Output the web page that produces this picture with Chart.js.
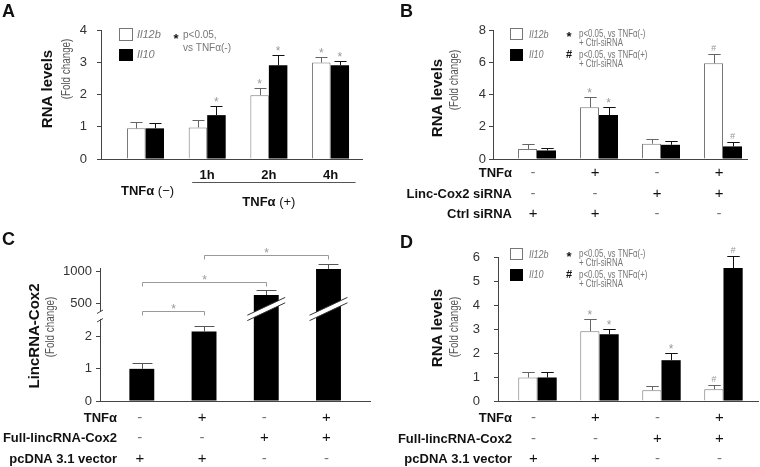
<!DOCTYPE html>
<html>
<head>
<meta charset="utf-8">
<script src="https://cdn.jsdelivr.net/npm/chart.js@4.4.1/dist/chart.umd.min.js"></script>
<style>
  html, body { margin: 0; background: #fff; }
  #fig { position: relative; width: 760px; height: 467px; overflow: hidden; }
  #fig canvas { position: absolute; left: 0; top: 0; }
</style>
</head>
<body>
<div id="fig">
  <canvas id="chartA" width="760" height="467"></canvas>
  <canvas id="chartB" width="760" height="467"></canvas>
  <canvas id="chartC" width="760" height="467"></canvas>
  <canvas id="chartD" width="760" height="467"></canvas>
</div>
<script>
// ---- panel A: TNFa time course
const groupsA = ['TNFα (−)', '1h', '2h', '4h']
const il12bA = [0.95, 0.98, 1.98, 2.99]
const il12bErrA = [0.19, 0.23, 0.21, 0.16]
const il10A = [0.95, 1.36, 2.91, 2.91]
const il10ErrA = [0.16, 0.29, 0.31, 0.14]
const il12bMarksA = ['', '', '*', '*']
const il10MarksA = ['', '*', '*', '*']
const ticksA = [0, 1, 2, 3, 4]

// ---- panel B: lincRNA-Cox2 siRNA
const il12bB = [0.62, 3.21, 0.95, 5.94]
const il12bErrB = [0.31, 0.66, 0.29, 0.58]
const il10B = [0.53, 2.73, 0.88, 0.78]
const il10ErrB = [0.15, 0.47, 0.23, 0.25]
const il12bMarksB = ['', '*', '', '#']
const il10MarksB = ['', '*', '', '#']
const ticksB = [0, 2, 4, 6, 8]
const rowsB = ['TNFα', 'Linc-Cox2 siRNA', 'Ctrl siRNA']
const signsB = [['-', '+', '-', '+'], ['-', '-', '+', '+'], ['+', '+', '-', '-']]

// ---- panel C: lincRNA-Cox2 overexpression (broken axis)
const lincC = [1.0, 2.16, 631, 1043]
const lincErrC = [0.17, 0.17, 79, 79]
const ticksCLow = [0, 1, 2]
const ticksCHigh = [500, 1000]
const bracketsC = [[0, 1], [0, 2], [1, 3]]
const bracketLevelsC = [378, 842, 1264]
const rowsCD = ['TNFα', 'Full-lincRNA-Cox2', 'pcDNA 3.1 vector']
const signsCD = [['-', '+', '-', '+'], ['-', '-', '+', '+'], ['+', '+', '-', '-']]

// ---- panel D
const il12bD = [0.98, 2.91, 0.45, 0.49]
const il12bErrD = [0.21, 0.49, 0.16, 0.17]
const il10D = [0.98, 2.78, 1.70, 5.54]
const il10ErrD = [0.21, 0.23, 0.28, 0.51]
const il12bMarksD = ['', '*', '', '#']
const il10MarksD = ['', '*', '*', '#']
const ticksD = [0, 1, 2, 3, 4, 5, 6]

const FONT = "'Liberation Sans', Arial, Helvetica, sans-serif"
const AXIS = '#444'
const GREY = '#777'

function pts(arr) {
  return arr.map((v, i) => ({ x: i, y: v }))
}

function label(ctx, s, x, y, o = {}) {
  ctx.save()
  ctx.translate(x, y)
  if (o.rot) ctx.rotate(o.rot)
  if (o.sx) ctx.scale(o.sx, 1)
  ctx.font = `${o.style || 'normal'} ${o.weight || 'normal'} ${o.size || 12}px ${FONT}`
  ctx.fillStyle = o.color || '#111'
  ctx.textAlign = o.align || 'left'
  ctx.textBaseline = o.base || 'middle'
  ctx.fillText(s, 0, 0)
  ctx.restore()
}

// bold part + normal part, centred on cx
function label2(ctx, a, b, cx, y, size) {
  ctx.save()
  ctx.font = `bold ${size}px ${FONT}`
  const wa = ctx.measureText(a).width
  ctx.font = `normal ${size}px ${FONT}`
  const wb = ctx.measureText(b).width
  ctx.restore()
  const x0 = cx - (wa + wb) / 2
  label(ctx, a, x0, y, { weight: 'bold', size })
  label(ctx, b, x0 + wa, y, { size })
}

function xAxis(min, max, n) {
  return {
    type: 'linear', min, max, offset: false,
    afterBuildTicks: s => { s.ticks = Array.from({ length: n }, (_, i) => ({ value: i })) },
    afterFit: s => { s.height = 0 },
    ticks: { display: false },
    grid: { display: false },
    border: { color: AXIS, width: 1 }
  }
}

function yAxis(min, max, ticks, pad) {
  return {
    min, max,
    afterBuildTicks: s => { s.ticks = ticks.map(v => ({ value: v })) },
    afterFit: s => { s.width = 40 },
    grid: { drawOnChartArea: false, tickLength: 4, color: AXIS },
    border: { color: AXIS, width: 1 },
    ticks: { color: '#333', padding: pad, font: { family: FONT, size: 13 }, callback: v => String(v) }
  }
}

function whiteSet(name, vals, errs, marks) {
  return { label: name, data: pts(vals), errors: errs, marks, backgroundColor: '#fff',
    borderColor: GREY, borderWidth: 1, errorColor: '#666', capRatio: 0.65 }
}
function blackSet(name, vals, errs, marks) {
  return { label: name, data: pts(vals), errors: errs, marks, backgroundColor: '#000',
    borderWidth: 0, errorColor: '#111', capRatio: 0.65 }
}

// error bars + significance marks above them
const errorBars = {
  id: 'errorBars',
  afterDatasetsDraw(chart) {
    const ctx = chart.ctx
    chart.data.datasets.forEach((ds, di) => {
      if (!ds.errors) return
      const meta = chart.getDatasetMeta(di)
      const ys = chart.scales[meta.yAxisID]
      meta.data.forEach((bar, i) => {
        const v = ds.data[i].y
        if (v < ys.min || v > ys.max) return
        const x = Math.round(bar.x) + 0.5
        const top = Math.round(ys.getPixelForValue(v + ds.errors[i])) + 0.5
        const half = bar.width * ds.capRatio / 2
        ctx.save()
        ctx.strokeStyle = ds.errorColor
        ctx.lineWidth = 1
        ctx.beginPath()
        ctx.moveTo(x, bar.y)
        ctx.lineTo(x, top)
        ctx.moveTo(x - half, top)
        ctx.lineTo(x + half, top)
        ctx.stroke()
        ctx.restore()
        const m = ds.marks && ds.marks[i]
        if (m === '*') label(ctx, m, bar.x, top - 1, { size: 12, color: '#999', align: 'center', base: 'alphabetic' })
        if (m === '#') label(ctx, m, bar.x, top - 4, { size: 9, color: '#999', align: 'center', base: 'alphabetic', style: 'italic' })
      })
    })
  }
}

function signTable(ctx, chart, rows, signs, right, ys, shift) {
  const x = chart.scales.x
  rows.forEach((r, k) => {
    label(ctx, r, right, ys[k], { weight: 'bold', size: 13, align: 'right', color: '#111' })
    signs[k].forEach((s, i) => {
      const px = x.getPixelForValue(i) + shift
      if (s === '+') label(ctx, '+', px, ys[k], { size: 15, align: 'center', color: '#111' })
      else label(ctx, '-', px, ys[k], { size: 15, align: 'center', color: '#777' })
    })
  })
}

function yTitle(ctx, main, sub, x1, y1, x2, y2) {
  label(ctx, main, x1, y1, { rot: -Math.PI / 2, weight: 'bold', size: 15, align: 'center' })
  label(ctx, sub, x2, y2, { rot: -Math.PI / 2, size: 12, sx: 0.82, align: 'center', color: '#555' })
}

function legendBD(ctx, chart, dy) {
  const ds = chart.data.datasets
  ctx.save()
  ctx.fillStyle = '#fff'
  ctx.strokeStyle = GREY
  ctx.lineWidth = 1
  ctx.fillRect(510.5, 28.5 + dy, 12, 11)
  ctx.strokeRect(510.5, 28.5 + dy, 12, 11)
  ctx.fillStyle = '#000'
  ctx.fillRect(510, 49 + dy, 13, 12)
  ctx.restore()
  label(ctx, ds[0].label, 529, 35 + dy, { style: 'italic', size: 11, sx: 0.82, color: GREY })
  label(ctx, ds[1].label, 529, 55 + dy, { style: 'italic', size: 11, sx: 0.82, color: GREY })
  label(ctx, '*', 569, 41 + dy, { weight: 'bold', size: 13, align: 'center', base: 'alphabetic' })
  label(ctx, '#', 569, 55 + dy, { weight: 'bold', size: 11, align: 'center' })
  label(ctx, 'p<0.05, vs TNFα(-)', 579, 34 + dy, { size: 10.5, sx: 0.75, color: GREY })
  label(ctx, '+ Ctrl-siRNA', 579, 43 + dy, { size: 10.5, sx: 0.75, color: GREY })
  label(ctx, 'p<0.05, vs TNFα(+)', 579, 55 + dy, { size: 10.5, sx: 0.75, color: GREY })
  label(ctx, '+ Ctrl-siRNA', 579, 64 + dy, { size: 10.5, sx: 0.75, color: GREY })
}

function panel(id, area, scales, datasets, plugins, catPct) {
  return new Chart(document.getElementById(id), {
    type: 'bar',
    data: { datasets },
    options: {
      responsive: false,
      animation: false,
      devicePixelRatio: 1,
      layout: { padding: { left: area[0] - 40, top: area[1], right: 760 - area[2], bottom: 467 - area[3] } },
      datasets: { bar: { categoryPercentage: catPct, barPercentage: 1 } },
      plugins: { legend: { display: false }, tooltip: { enabled: false } },
      scales
    },
    plugins: [errorBars, ...plugins]
  })
}

// ---------- A
panel('chartA', [101, 30, 362, 159],
  { x: xAxis(-0.722, 3.51, groupsA.length), y: yAxis(0, 4, ticksA, 10) },
  [whiteSet('Il12b', il12bA, il12bErrA, il12bMarksA), blackSet('Il10', il10A, il10ErrA, il10MarksA)],
  [{
    id: 'decoA',
    afterDraw(chart) {
      const ctx = chart.ctx, x = chart.scales.x, ds = chart.data.datasets
      label(ctx, 'A', 2, 17, { weight: 'bold', size: 18, base: 'alphabetic' })
      yTitle(ctx, 'RNA levels', '(Fold change)', 48, 89, 67, 69)
      ctx.save()
      ctx.fillStyle = '#fff'
      ctx.strokeStyle = GREY
      ctx.fillRect(119.5, 28.5, 13, 12)
      ctx.strokeRect(119.5, 28.5, 13, 12)
      ctx.fillStyle = '#000'
      ctx.fillRect(119, 49, 14, 12)
      ctx.restore()
      label(ctx, ds[0].label, 137, 35, { style: 'italic', size: 11, color: GREY })
      label(ctx, ds[1].label, 137, 55, { style: 'italic', size: 11, color: GREY })
      label(ctx, '*', 176, 43, { weight: 'bold', size: 13, align: 'center', base: 'alphabetic' })
      label(ctx, 'p<0.05,', 183, 35, { size: 10, color: GREY })
      label(ctx, 'vs TNFα(-)', 183, 48, { size: 10, color: GREY })
      for (let i = 1; i < groupsA.length; i++) {
        label(ctx, groupsA[i], x.getPixelForValue(i), 175, { weight: 'bold', size: 13, align: 'center' })
      }
      label2(ctx, 'TNFα', ' (−)', x.getPixelForValue(0) + 2, 191, 13)
      ctx.save()
      ctx.strokeStyle = '#555'
      ctx.beginPath()
      ctx.moveTo(x.getPixelForValue(1) - 15, 182.5)
      ctx.lineTo(x.getPixelForValue(3) + 25, 182.5)
      ctx.stroke()
      ctx.restore()
      label2(ctx, 'TNFα', ' (+)', x.getPixelForValue(2), 202, 13)
    }
  }], 0.6)

// ---------- B
panel('chartB', [493, 30, 747, 159],
  { x: xAxis(-0.71, 3.387, 4), y: yAxis(0, 8, ticksB, 3) },
  [whiteSet('Il12b', il12bB, il12bErrB, il12bMarksB), blackSet('Il10', il10B, il10ErrB, il10MarksB)],
  [{
    id: 'decoB',
    afterDraw(chart) {
      const ctx = chart.ctx
      label(ctx, 'B', 400, 17, { weight: 'bold', size: 18, base: 'alphabetic' })
      yTitle(ctx, 'RNA levels', '(Fold change)', 437.5, 98, 455, 80)
      legendBD(ctx, chart, 0)
      signTable(ctx, chart, rowsB, signsB, 512, [173, 194, 214], -4)
    }
  }], 0.613)

// ---------- C (two stacked y scales make the axis break)
const clipToScale = {
  id: 'clipToScale',
  beforeDatasetDraw(chart, args) {
    const ys = chart.scales[args.meta.yAxisID]
    const a = chart.chartArea
    chart.ctx.save()
    chart.ctx.beginPath()
    chart.ctx.rect(a.left, ys.top, a.right - a.left, ys.bottom - ys.top)
    chart.ctx.clip()
  },
  afterDatasetDraw(chart) {
    chart.ctx.restore()
  }
}

panel('chartC', [100, 268, 370, 401],
  {
    x: xAxis(-0.672, 3.667, lincC.length),
    y: Object.assign(yAxis(0, 2.52, ticksCLow, 4), { stack: 'c', stackWeight: 81 }),
    y2: Object.assign(yAxis(236, 1058, ticksCHigh, 4), { stack: 'c', stackWeight: 52, position: 'left' })
  },
  [
    { label: 'low', data: pts(lincC), yAxisID: 'y', grouped: false, backgroundColor: '#000', borderWidth: 0,
      errors: lincErrC, errorColor: '#555', capRatio: 0.8 },
    { label: 'high', data: pts(lincC), yAxisID: 'y2', grouped: false, backgroundColor: '#000', borderWidth: 0,
      errors: lincErrC, errorColor: '#555', capRatio: 0.8 }
  ],
  [clipToScale, {
    id: 'decoC',
    afterDatasetsDraw(chart) {
      const ctx = chart.ctx, hi = chart.scales.y2
      chart.getDatasetMeta(1).data.forEach((bar, i) => {
        if (lincC[i] < hi.min) return
        const cy = hi.bottom - 11, hw = bar.width / 2 + 6.5, k = 0.47, g = 2.7
        ctx.save()
        ctx.beginPath()
        ctx.moveTo(bar.x - hw, cy + hw * k - g)
        ctx.lineTo(bar.x + hw, cy - hw * k - g)
        ctx.lineTo(bar.x + hw, cy - hw * k + g)
        ctx.lineTo(bar.x - hw, cy + hw * k + g)
        ctx.closePath()
        ctx.fillStyle = '#fff'
        ctx.fill()
        ctx.strokeStyle = '#333'
        ctx.lineWidth = 1
        ctx.beginPath()
        ctx.moveTo(bar.x - hw, cy + hw * k - g)
        ctx.lineTo(bar.x + hw, cy - hw * k - g)
        ctx.moveTo(bar.x - hw, cy + hw * k + g)
        ctx.lineTo(bar.x + hw, cy - hw * k + g)
        ctx.stroke()
        ctx.restore()
      })
    },
    afterDraw(chart) {
      const ctx = chart.ctx, x = chart.scales.x, hi = chart.scales.y2
      const ax = chart.chartArea.left
      label(ctx, 'C', 2, 245, { weight: 'bold', size: 18, base: 'alphabetic' })
      yTitle(ctx, 'LincRNA-Cox2', '(Fold change)', 35, 336, 51, 327)
      // axis break
      ctx.save()
      ctx.fillStyle = '#fff'
      ctx.fillRect(ax - 2, hi.bottom - 8, 4, 7)
      ctx.strokeStyle = AXIS
      ctx.lineWidth = 1
      ctx.beginPath()
      ctx.moveTo(ax - 3, hi.bottom - 6.5)
      ctx.lineTo(ax + 3, hi.bottom - 10)
      ctx.moveTo(ax - 3, hi.bottom + 2)
      ctx.lineTo(ax + 3, hi.bottom - 1.5)
      ctx.stroke()
      // significance brackets
      ctx.strokeStyle = '#999'
      bracketsC.forEach(([a, b], k) => {
        const y = Math.round(hi.getPixelForValue(bracketLevelsC[k])) + 0.5
        const xa = Math.round(x.getPixelForValue(a)) + 0.5
        const xb = Math.round(x.getPixelForValue(b)) + 0.5
        ctx.beginPath()
        ctx.moveTo(xa, y + 4)
        ctx.lineTo(xa, y)
        ctx.lineTo(xb, y)
        ctx.lineTo(xb, y + 4)
        ctx.stroke()
        label(ctx, '*', (xa + xb) / 2, y + 1, { size: 12, color: '#999', align: 'center', base: 'alphabetic' })
      })
      ctx.restore()
      signTable(ctx, chart, rowsCD, signsCD, 117, [418, 438, 459], -2)
    }
  }], 0.40)

// ---------- D
panel('chartD', [498, 257, 758, 401],
  { x: xAxis(-0.637, 3.557, 4), y: yAxis(0, 6, ticksD, 14) },
  [whiteSet('Il12b', il12bD, il12bErrD, il12bMarksD), blackSet('Il10', il10D, il10ErrD, il10MarksD)],
  [{
    id: 'decoD',
    afterDraw(chart) {
      const ctx = chart.ctx
      label(ctx, 'D', 400, 248, { weight: 'bold', size: 18, base: 'alphabetic' })
      yTitle(ctx, 'RNA levels', '(Fold change)', 437.5, 328, 455, 327)
      legendBD(ctx, chart, 220)
      signTable(ctx, chart, rowsCD, signsCD, 512, [418, 439, 459], -4)
    }
  }], 0.62)
</script>
</body>
</html>
